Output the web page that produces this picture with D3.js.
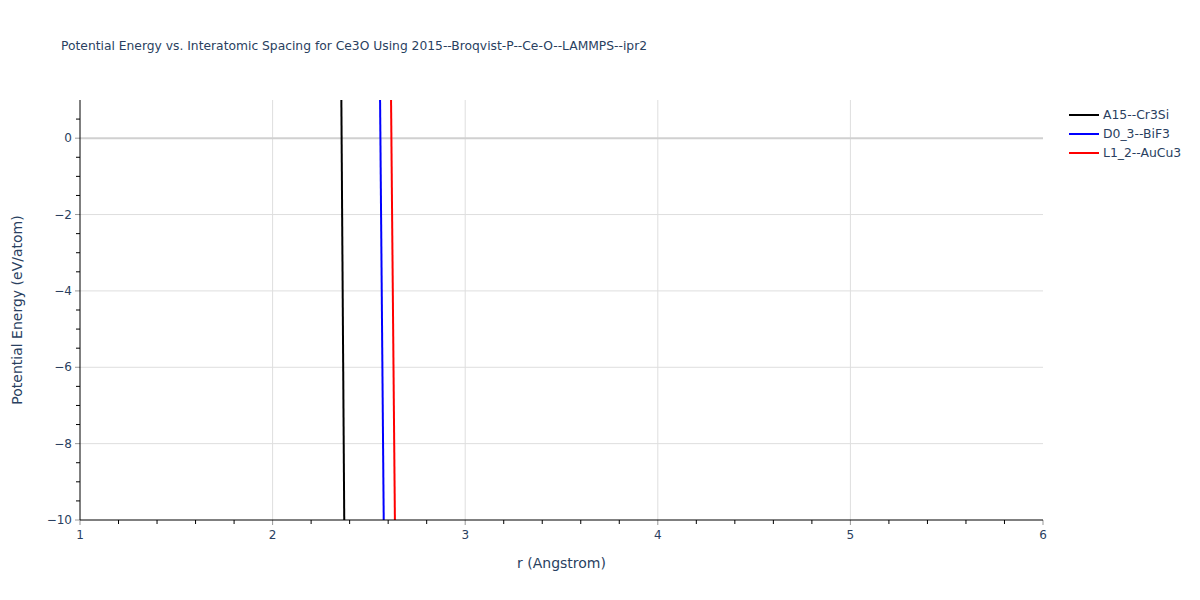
<!DOCTYPE html>
<html>
<head>
<meta charset="utf-8">
<script src="https://cdn.jsdelivr.net/npm/d3@7"></script>
<style>
    body { margin: 0; background: #fff; }
    text { font-family: "DejaVu Sans", verdana, arial, sans-serif; fill: #2a3f5f; }
</style>
</head>
<body>
<div id="chart"></div>
<script>
(function () {

    // series data (r in Angstrom, energy in eV/atom)
    const seriesNames = ['A15--Cr3Si', 'D0_3--BiF3', 'L1_2--AuCu3'];
    const seriesColors = ['#000000', '#0000ff', '#ff0000'];
    const a15R = [2.357, 2.372];
    const a15E = [1, -10];
    const d03R = [2.558, 2.577];
    const d03E = [1, -10];
    const l12R = [2.615, 2.635];
    const l12E = [1, -10];

    const xTicks = [1, 2, 3, 4, 5, 6];
    const yTicks = [-10, -8, -6, -4, -2, 0];

    const width = 1200;
    const height = 600;
    const margin = { top: 100, right: 157, bottom: 80, left: 80 };
    const plotW = width - margin.left - margin.right;
    const plotH = height - margin.top - margin.bottom;

    const svg = d3.select('#chart')
        .append('svg')
        .attr('width', width)
        .attr('height', height);

    const x = d3.scaleLinear().domain([1, 6]).range([margin.left, margin.left + plotW]);
    const y = d3.scaleLinear().domain([-10, 1]).range([margin.top + plotH, margin.top]);

    const fmt = v => String(v).replace('-', '\u2212');

    // title
    svg.append('text')
        .attr('x', 61)
        .attr('y', 50)
        .style('font-size', '12.3px')
        .text('Potential Energy vs. Interatomic Spacing for Ce3O Using 2015--Broqvist-P--Ce-O--LAMMPS--ipr2');

    // grid
    const grid = svg.append('g');
    grid.selectAll('.gx')
        .data(xTicks.filter(d => d > 1 && d < 6))
        .join('line')
        .attr('x1', d => x(d)).attr('x2', d => x(d))
        .attr('y1', margin.top).attr('y2', margin.top + plotH)
        .attr('stroke', '#dedede').attr('stroke-width', 1);
    grid.selectAll('.gy')
        .data(yTicks.filter(d => d > -10 && d !== 0))
        .join('line')
        .attr('x1', margin.left).attr('x2', margin.left + plotW)
        .attr('y1', d => y(d)).attr('y2', d => y(d))
        .attr('stroke', '#dedede').attr('stroke-width', 1);
    // zero line
    grid.append('line')
        .attr('x1', margin.left).attr('x2', margin.left + plotW)
        .attr('y1', y(0)).attr('y2', y(0))
        .attr('stroke', '#d0d0d0').attr('stroke-width', 2);

    // lines
    svg.append('defs').append('clipPath').attr('id', 'clip')
        .append('rect')
        .attr('x', margin.left).attr('y', margin.top)
        .attr('width', plotW).attr('height', plotH);

    const line = d3.line().x(d => x(d[0])).y(d => y(d[1]));
    const series = [
        d3.zip(a15R, a15E),
        d3.zip(d03R, d03E),
        d3.zip(l12R, l12E)
    ];
    svg.append('g')
        .attr('clip-path', 'url(#clip)')
        .selectAll('path')
        .data(series)
        .join('path')
        .attr('d', line)
        .attr('fill', 'none')
        .attr('stroke', (d, i) => seriesColors[i])
        .attr('stroke-width', 2);

    // x axis
    const xAxis = svg.append('g');
    xAxis.selectAll('.minor')
        .data(d3.range(1.2, 6, 0.2).filter(v => Math.abs(v - Math.round(v)) > 0.01))
        .join('line')
        .attr('x1', d => x(d)).attr('x2', d => x(d))
        .attr('y1', margin.top + plotH).attr('y2', margin.top + plotH + 4)
        .attr('stroke', '#000');
    xAxis.selectAll('.major')
        .data(xTicks)
        .join('line')
        .attr('x1', d => x(d)).attr('x2', d => x(d))
        .attr('y1', margin.top + plotH).attr('y2', margin.top + plotH + 5)
        .attr('stroke', '#999');
    xAxis.selectAll('text')
        .data(xTicks)
        .join('text')
        .attr('x', d => x(d))
        .attr('y', margin.top + plotH + 19)
        .attr('text-anchor', 'middle')
        .style('font-size', '12px')
        .text(fmt);
    xAxis.append('line')
        .attr('x1', margin.left).attr('x2', margin.left + plotW)
        .attr('y1', margin.top + plotH).attr('y2', margin.top + plotH)
        .attr('stroke', '#000');

    // y axis
    const yAxis = svg.append('g');
    yAxis.selectAll('.minor')
        .data(d3.range(-9.5, 1, 1))
        .join('line')
        .attr('x1', margin.left - 4).attr('x2', margin.left)
        .attr('y1', d => y(d)).attr('y2', d => y(d))
        .attr('stroke', '#000');
    yAxis.selectAll('.minor2')
        .data(d3.range(-9, 1, 2))
        .join('line')
        .attr('x1', margin.left - 4).attr('x2', margin.left)
        .attr('y1', d => y(d)).attr('y2', d => y(d))
        .attr('stroke', '#000');
    yAxis.selectAll('.major')
        .data(yTicks)
        .join('line')
        .attr('x1', margin.left - 5).attr('x2', margin.left)
        .attr('y1', d => y(d)).attr('y2', d => y(d))
        .attr('stroke', '#999');
    yAxis.selectAll('text')
        .data(yTicks)
        .join('text')
        .attr('x', margin.left - 8)
        .attr('y', d => y(d) + 4)
        .attr('text-anchor', 'end')
        .style('font-size', '12px')
        .text(fmt);
    yAxis.append('line')
        .attr('x1', margin.left).attr('x2', margin.left)
        .attr('y1', margin.top).attr('y2', margin.top + plotH)
        .attr('stroke', '#000');

    // axis titles
    svg.append('text')
        .attr('x', margin.left + plotW / 2)
        .attr('y', 568)
        .attr('text-anchor', 'middle')
        .style('font-size', '14px')
        .text('r (Angstrom)');
    svg.append('text')
        .attr('transform', `translate(22,${margin.top + plotH / 2}) rotate(-90)`)
        .attr('text-anchor', 'middle')
        .style('font-size', '14px')
        .text('Potential Energy (eV/atom)');

    // legend
    const legend = svg.append('g').attr('transform', 'translate(1069,115)');
    const item = legend.selectAll('g')
        .data(seriesNames)
        .join('g')
        .attr('transform', (d, i) => `translate(0,${i * 19})`);
    item.append('line')
        .attr('x1', 0).attr('x2', 30)
        .attr('stroke', (d, i) => seriesColors[i])
        .attr('stroke-width', 2);
    item.append('text')
        .attr('x', 34)
        .attr('y', 4)
        .style('font-size', '12.4px')
        .text(d => d);
})();
</script>
</body>
</html>
